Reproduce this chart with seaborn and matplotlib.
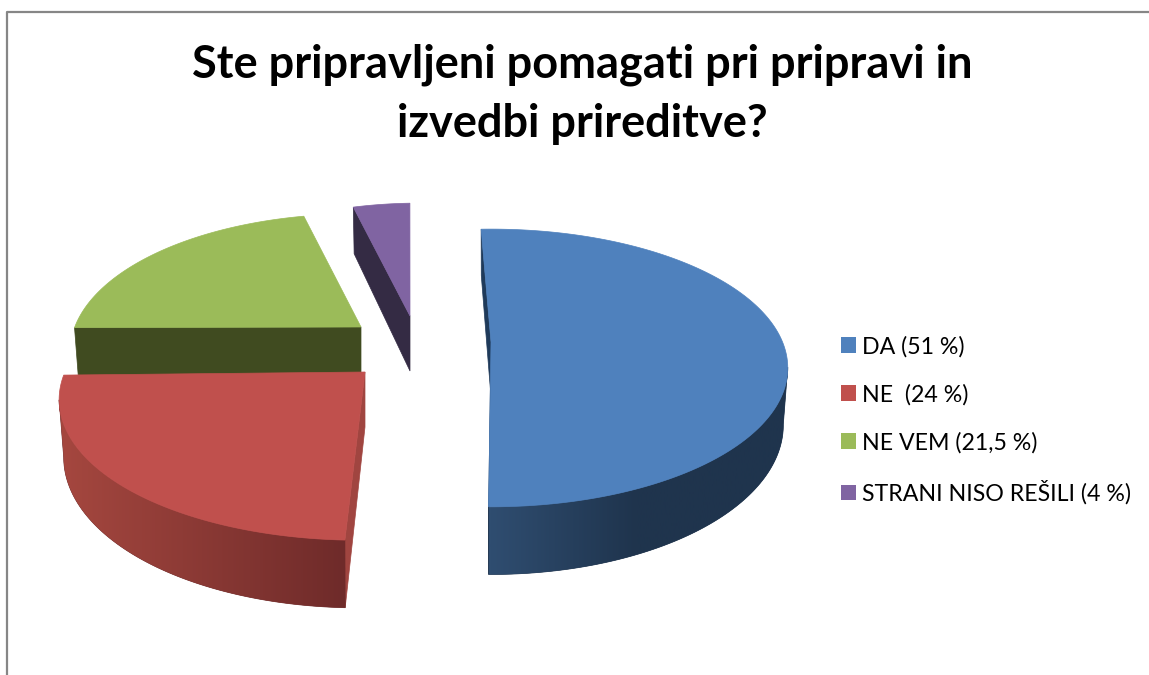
import numpy as np
import matplotlib
matplotlib.use("Agg")
import matplotlib.pyplot as plt
from matplotlib.colors import to_rgb
from matplotlib.patches import Patch, Polygon
import seaborn as sns

# values from the legend
labels = ["DA (51 %)", "NE  (24 %)", "NE VEM (21,5 %)", "STRANI NISO REŠILI (4 %)"]
values = [51, 24, 21.5, 4]
title = "Ste pripravljeni pomagati pri pripravi in\nizvedbi prireditve?"

# colours: top face, wall at its left end, wall at its right end, cut face
top_colors = ["#4f81bd", "#c0504d", "#9bbb59", "#8064a2"]
wall_left = ["#2f4d70", "#a5473f", "#404b20", "#342b44"]
wall_right = ["#1f344d", "#6f2b2a", "#404b20", "#342b44"]
cut_colors = ["#1f3a5a", "#a04540", "#404b20", "#342b44"]

# where each exploded slice sits on the canvas (pixels), its scale and lean
tips_x = [491, 365, 361, 410]
tips_y = [342, 372, 327, 316]
scale_x = [0.995, 1.015, 0.965, 0.92]
scale_y = [1.0, 1.02, 1.0, 1.0]
lean_x = [0.0, 0.105, 0.105, 0.08]
lean_y = [0.0, -0.019, -0.028, 0.0]
draw_order = [2, 3, 1, 0]
# which end of each slice shows its cut face
cut_ends = [(0, -1), (0,), (0,), (0,)]

# perspective settings
START_ANGLE = -2.3
RADIUS_X = 293
RADIUS_Y = 134
PERSP = 0.187
DEPTH = 55
FLOOR_SHRINK = 0.985

sns.set_theme(style="white")
plt.rcParams["font.family"] = ["Lato", "DejaVu Sans"]


def project(theta, radius, i, floor=False):
    # theta runs clockwise from twelve o'clock, in degrees
    t = np.radians(theta)
    px = radius * np.sin(t)
    py = radius * np.cos(t)
    d = 1 + PERSP * py
    sx = scale_x[i] * RADIUS_X * px / d
    sy = scale_y[i] * RADIUS_Y * py / d
    sx, sy = sx + lean_x[i] * sy, sy + lean_y[i] * sx
    if floor:
        return tips_x[i] + sx * FLOOR_SHRINK, tips_y[i] - sy + DEPTH / d
    return tips_x[i] + sx, tips_y[i] - sy


fig = plt.figure(figsize=(11.49, 6.75), dpi=100)
ax = fig.add_axes([0, 0, 1, 1])
ax.axis("off")

# slice edges come from the shares
shares = np.array(values) / np.sum(values) * 360
edges = START_ANGLE + np.concatenate([[0], np.cumsum(shares)])

for n, i in enumerate(draw_order):
    z = n * 10
    thetas = np.linspace(edges[i], edges[i + 1], 200)
    tx, ty = project(thetas, 1.0, i)
    fx, fy = project(thetas, 1.0, i, floor=True)
    ox, oy = project(0.0, 0.0, i)
    bx, by = project(0.0, 0.0, i, floor=True)

    # cut faces
    for k in cut_ends[i]:
        ax.fill([ox, tx[k], fx[k], bx], [oy, ty[k], fy[k], by],
                color=cut_colors[i], lw=0.5, zorder=z + 1)

    # outer wall, only the part in front of the widest point of the rim
    widest = np.argmax(np.abs(tx - ox))
    front = ty >= ty[widest]
    if front.sum() > 1:
        wall_xy = np.column_stack([np.r_[tx[front], fx[front][::-1]], np.r_[ty[front], fy[front][::-1]]])
        ax.add_patch(Polygon(wall_xy, closed=True, color=wall_right[i], lw=0.5, zorder=z + 2))
        x0, x1 = wall_xy[:, 0].min(), wall_xy[:, 0].max()
        steps = 64
        if i == 0:
            # blue darkens over its left half and is flat after
            shades = sns.blend_palette([wall_left[i], wall_right[i]], steps // 2) + [to_rgb(wall_right[i])] * (steps // 2)
        else:
            shades = sns.blend_palette([wall_left[i], wall_right[i]], steps)
        shades = np.array([[c[:3] for c in shades]])
        img = ax.imshow(shades, extent=(x0, x1, 0, 675), aspect="auto",
                        interpolation="bilinear", zorder=z + 2.5)
        img.set_clip_path(Polygon(wall_xy, closed=True, transform=ax.transData))

    # top face
    ax.fill(np.r_[ox, tx], np.r_[oy, ty], color=top_colors[i], lw=0.5, zorder=z + 3)

ax.set_xlim(0, 1149)
ax.set_ylim(675, 0)

# chart frame, only top and left are in the crop
ax.plot([7, 7, 1149], [675, 11.5, 11.5], color="#868686", lw=1.6, zorder=100)

ax.text(582, 94, title, ha="center", va="center", fontsize=32.5, fontweight="bold",
        color="black", linespacing=1.5)

handles = [Patch(facecolor=c, edgecolor="none") for c in top_colors]
leg = ax.legend(handles, labels, loc="center left", bbox_to_anchor=(820 / 1149, 1 - 420 / 675),
                frameon=False, fontsize=16.7, handlelength=0.65, handleheight=0.65,
                handletextpad=0.26, labelspacing=1.147)
for t in leg.get_texts():
    t.set_color("black")

fig.savefig("out.png", dpi=100)
